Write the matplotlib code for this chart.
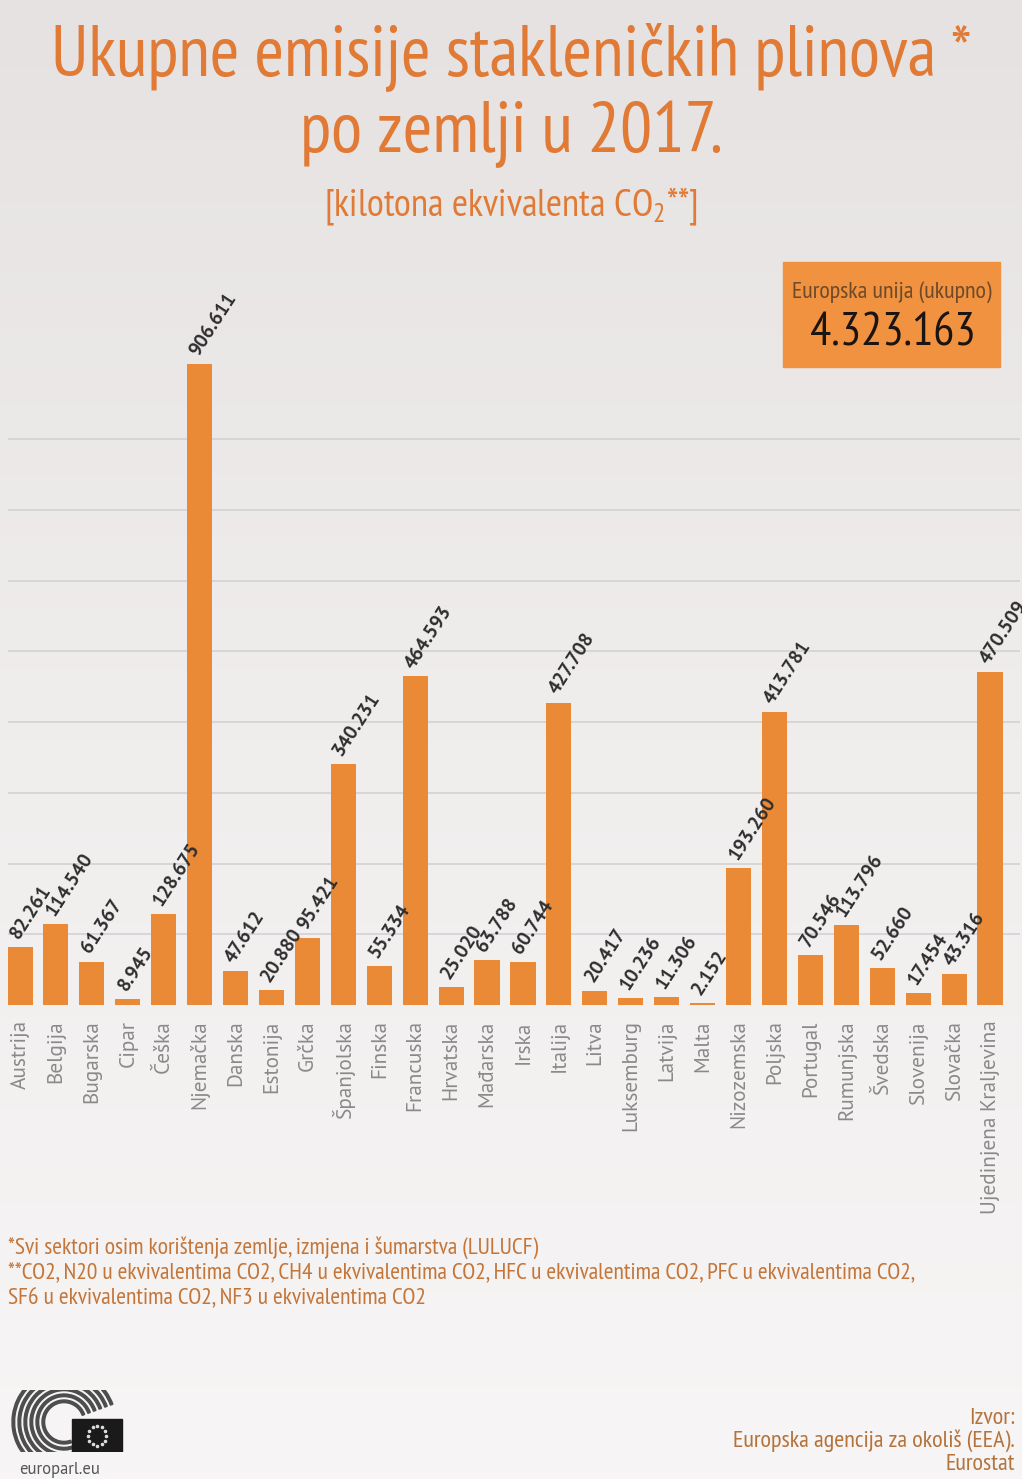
import numpy as np
import matplotlib.pyplot as plt
from matplotlib.patches import Rectangle, Wedge
from matplotlib.colors import LinearSegmentedColormap

USKO = ['PT Sans Narrow', 'DejaVu Sans']
plt.rcParams['font.family'] = USKO
plt.rcParams['mathtext.fontset'] = 'custom'
plt.rcParams['mathtext.rm'] = 'PT Sans Narrow'

# podaci: emisije u kilotonama CO2 ekvivalenta, 2017.
zemlje = ['Austrija', 'Belgija', 'Bugarska', 'Cipar', 'Češka', 'Njemačka', 'Danska',
          'Estonija', 'Grčka', 'Španjolska', 'Finska', 'Francuska', 'Hrvatska',
          'Mađarska', 'Irska', 'Italija', 'Litva', 'Luksemburg', 'Latvija', 'Malta',
          'Nizozemska', 'Poljska', 'Portugal', 'Rumunjska', 'Švedska', 'Slovenija',
          'Slovačka', 'Ujedinjena Kraljevina']
emisije = [82261, 114540, 61367, 8945, 128675, 906611, 47612,
           20880, 95421, 340231, 55334, 464593, 25020,
           63788, 60744, 427708, 20417, 10236, 11306, 2152,
           193260, 413781, 70546, 113796, 52660, 17454,
           43316, 470509]
eu_ukupno = 4323163
linije = [100000, 200000, 300000, 400000, 500000, 600000, 700000, 800000]

NARANCASTA = '#ea8a36'
W, H = 1022, 1479


def tocke(v):
    return f"{v:,}".replace(',', '.')


def fx(px):
    return px / W


def fy(py):
    return 1 - py / H


fig = plt.figure(figsize=(W / 100, H / 100), dpi=100)
fig.patch.set_facecolor('#efecec')

# pozadina - blagi prijelaz sive (tamnije gore, svjetlije dolje)
nebo = LinearSegmentedColormap.from_list('nebo', ['#f7f5f5', '#f0eded', '#e6e2e2'])
bg = fig.add_axes([0, 0, 1, 1], zorder=-10)
bg.imshow(np.linspace(0, 1, 256).reshape(-1, 1), aspect='auto', cmap=nebo,
          extent=[0, 1, 0, 1], origin='lower')
bg.axis('off')

# glavni graf
ax = fig.add_axes([fx(8), fy(1005), fx(1020) - fx(8), fy(300) - fy(1005)])
ax.patch.set_alpha(0)
x = np.arange(len(zemlje))
ax.bar(x, emisije, width=0.70, color=NARANCASTA, zorder=3)
for g in linije:
    ax.axhline(g, color='#d4d1d1', lw=1.2, zorder=1)

for i, v in enumerate(emisije):
    ax.text(i + 0.05, v + 7000, tocke(v), rotation=57,
            rotation_mode='anchor', ha='left', va='bottom', fontsize=14,
            color='#2e2e2e', fontweight='bold', family=['PT Sans', 'DejaVu Sans'],
            zorder=4)

ax.set_xlim(-0.334, 27.835)
ax.set_ylim(0, 997000)
ax.set_xticks(x)
ax.set_xticklabels(zemlje, rotation=90, fontsize=15.3, color='#8a8a8a',
                   family=['PT Sans', 'DejaVu Sans'])
ax.tick_params(axis='x', length=0, pad=11)
ax.set_yticks([])
for s in ax.spines.values():
    s.set_visible(False)

# naslov
fig.text(0.5, fy(76), 'Ukupne emisije stakleničkih plinova *', ha='center',
         va='baseline', fontsize=51.5, color='#e07a34')
fig.text(0.5, fy(152), 'po zemlji u 2017.', ha='center', va='baseline',
         fontsize=51.5, color='#e07a34')
fig.text(0.5, fy(216), r'[kilotona ekvivalenta CO$_2$**]', ha='center',
         va='baseline', fontsize=28, color='#e07a34')

# okvir EU ukupno
fig.patches.append(Rectangle((fx(783), fy(367)), fx(1000) - fx(783), fy(262) - fy(367),
                             transform=fig.transFigure, color='#f0923f', zorder=5))
fig.text(fx(892), fy(298), 'Europska unija (ukupno)', ha='center', va='baseline',
         fontsize=17.3, color='#6e4a2a', zorder=6)
fig.text(fx(893), fy(346), tocke(eu_ukupno), ha='center',
         va='baseline', fontsize=34, color='#1c1410', zorder=6)

# fusnote
fus = ['*Svi sektori osim korištenja zemlje, izmjena i šumarstva (LULUCF)',
       '**CO2, N20 u ekvivalentima CO2, CH4 u ekvivalentima CO2, HFC u ekvivalentima CO2, PFC u ekvivalentima CO2,',
       'SF6 u ekvivalentima CO2, NF3 u ekvivalentima CO2']
for k, t in enumerate(fus):
    fig.text(fx(8), fy(1254 + k * 25), t, ha='left', va='baseline',
             fontsize=17, color='#c4763a')

izvor = ['Izvor:', 'Europska agencija za okoliš (EEA).', 'Eurostat']
for k, t in enumerate(izvor):
    fig.text(fx(1015), fy(1424 + k * 23), t, ha='right', va='baseline',
             fontsize=17.5, color='#b5733c')

# logo europarl
lg = fig.add_axes([fx(8), fy(1452), fx(124) - fx(8), fy(1390) - fy(1452)])
lg.set_xlim(0, 116)
lg.set_ylim(0, 62)
lg.axis('off')
for r in [22, 28, 34, 40, 46, 52]:
    lg.add_patch(Wedge((56, 30), r, 20, 290, width=2.6, color='#4d4d4d'))
lg.add_patch(Rectangle((64, 0), 50, 33, color='#1a1a1a'))
ang = np.linspace(0, 2 * np.pi, 12, endpoint=False)
lg.scatter(89 + 9 * np.cos(ang), 16.5 + 10 * np.sin(ang), s=2.5, color='#dcdcdc')
fig.text(fx(60), fy(1474), 'europarl.eu', ha='center', va='baseline',
         fontsize=12, color='#555555', family=['PT Sans', 'DejaVu Sans'])

fig.savefig('out.png', dpi=100, facecolor=fig.get_facecolor())
